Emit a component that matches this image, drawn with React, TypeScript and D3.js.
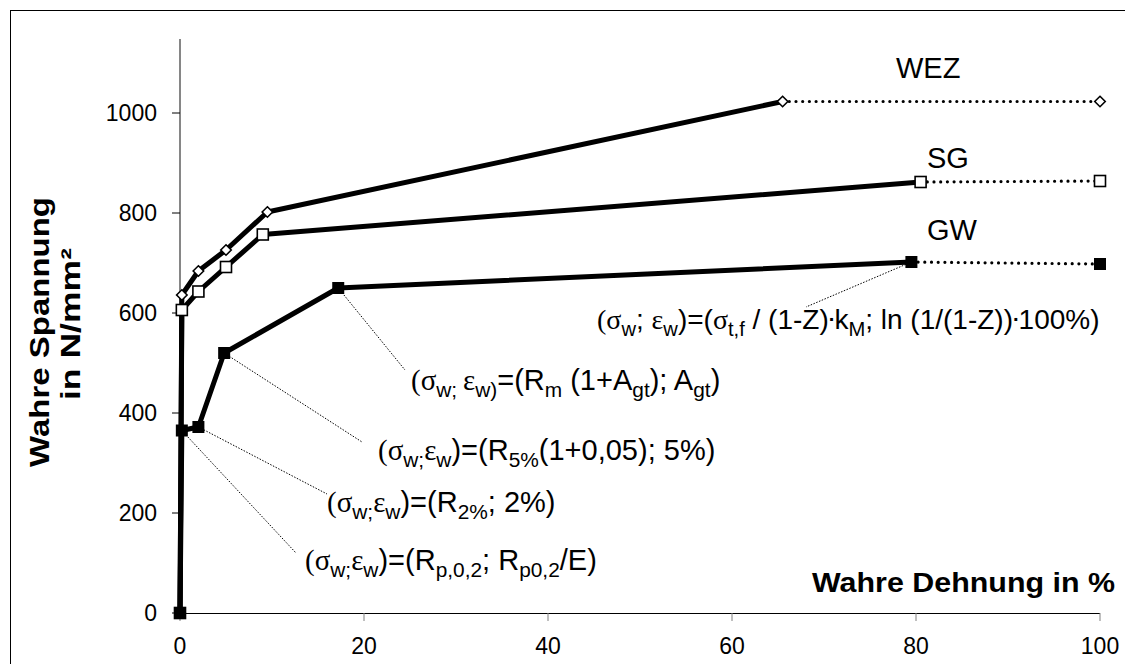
import React from 'react';
import * as d3 from 'd3';

// ---- data ----
const xTicks = [0, 20, 40, 60, 80, 100];
const yTicks = [0, 200, 400, 600, 800, 1000];

const wezStrain = [0, 0.2, 2, 5, 9.5, 65.5];
const wezStress = [0, 636, 684, 726, 802, 1023];
const wezExtStrain = [65.5, 100];
const wezExtStress = [1023, 1023];

const sgStrain = [0, 0.2, 2, 5, 9, 80.5];
const sgStress = [0, 606, 643, 692, 757, 862];
const sgExtStrain = [80.5, 100];
const sgExtStress = [862, 864];

const gwStrain = [0, 0.2, 2, 4.8, 17.2, 79.5];
const gwStress = [0, 365, 372, 520, 650, 702];
const gwExtStrain = [79.5, 100];
const gwExtStress = [702, 698];

const seriesNames = ['WEZ', 'SG', 'GW'];

type Seg = { t: string; s?: 'sub' | 'sup'; serif?: boolean };

const formulaTop: Seg[] = [
  { t: '(σ', serif: true }, { t: 'w', s: 'sub' }, { t: '; ' }, { t: 'ε', serif: true }, { t: 'w', s: 'sub' },
  { t: ')=(' }, { t: 'σ', serif: true }, { t: 't,f', s: 'sub' }, { t: ' / (1-Z)' }, { t: '.', s: 'sup' },
  { t: 'k' }, { t: 'M', s: 'sub' }, { t: '; ln (1/(1-Z))' }, { t: '.', s: 'sup' }, { t: '100%)' },
];
const formulaAgt: Seg[] = [
  { t: '(σ', serif: true }, { t: 'w; ', s: 'sub' }, { t: 'ε', serif: true }, { t: 'w)', s: 'sub' },
  { t: '=(R' }, { t: 'm', s: 'sub' }, { t: ' (1+A' }, { t: 'gt', s: 'sub' }, { t: '); A' }, { t: 'gt', s: 'sub' }, { t: ')' },
];
const formula5: Seg[] = [
  { t: '(σ', serif: true }, { t: 'w;', s: 'sub' }, { t: 'ε', serif: true }, { t: 'w', s: 'sub' },
  { t: ')=(R' }, { t: '5%', s: 'sub' }, { t: '(1+0,05); 5%)' },
];
const formula2: Seg[] = [
  { t: '(σ', serif: true }, { t: 'w;', s: 'sub' }, { t: 'ε', serif: true }, { t: 'w', s: 'sub' },
  { t: ')=(R' }, { t: '2%', s: 'sub' }, { t: '; 2%)' },
];
const formulaP: Seg[] = [
  { t: '(σ', serif: true }, { t: 'w;', s: 'sub' }, { t: 'ε', serif: true }, { t: 'w', s: 'sub' },
  { t: ')=(R' }, { t: 'p,0,2', s: 'sub' }, { t: '; R' }, { t: 'p0,2', s: 'sub' }, { t: '/E)' },
];

const SANS = "'Liberation Sans', Arial, sans-serif";
const SERIF = "'Liberation Serif', 'Times New Roman', serif";

function Rich({ x, y, segs, size }: { x: number; y: number; segs: Seg[]; size: number }) {
  let cur = 0;
  return (
    <text x={x} y={y} fontSize={size} fontFamily={SANS} fill="#000" style={{ whiteSpace: 'pre' }}>
      {segs.map((g, i) => {
        const target = g.s === 'sub' ? size * 0.24 : g.s === 'sup' ? -size * 0.3 : 0;
        const dy = target - cur;
        cur = target;
        return (
          <tspan key={i} dy={dy} fontSize={g.s ? size * 0.72 : size} fontFamily={g.serif ? SERIF : SANS}
            fontWeight={g.s === 'sup' ? 'bold' : 'normal'}>
            {g.t}
          </tspan>
        );
      })}
    </text>
  );
}

export default function App() {
  const W = 1125, H = 664;
  const x = d3.scaleLinear().domain([0, 100]).range([180, 1100]);
  const y = d3.scaleLinear().domain([0, 1000]).range([613, 113]);
  const yTop = 1148;

  const line = d3.line<[number, number]>().x(d => x(d[0])).y(d => y(d[1]));
  const zip = (a: number[], b: number[]) => a.map((v, i) => [v, b[i]] as [number, number]);

  const wez = zip(wezStrain, wezStress);
  const wezExt = zip(wezExtStrain, wezExtStress);
  const sg = zip(sgStrain, sgStress);
  const sgExt = zip(sgExtStrain, sgExtStress);
  const gw = zip(gwStrain, gwStress);
  const gwExt = zip(gwExtStrain, gwExtStress);

  const diamond = d3.symbol().type(d3.symbolDiamond2).size(70)();
  const sq = 11;

  const leaders: { from: [number, number]; to: [number, number] }[] = [
    { from: [gwStrain[5], gwStress[5]], to: [806, 307] },
    { from: [gwStrain[4], gwStress[4]], to: [405, 370] },
    { from: [gwStrain[3], gwStress[3]], to: [362, 442] },
    { from: [gwStrain[2], gwStress[2]], to: [327, 494] },
    { from: [gwStrain[1], gwStress[1]], to: [296, 553] },
  ];

  return (
    <svg width={W} height={H} style={{ position: 'absolute', left: 0, top: 0, background: '#fff' }}>
      <rect x={0} y={0} width={W} height={H} fill="#fff" />
      <rect x={10.5} y={10.5} width={W + 20} height={H + 20} fill="none" stroke="#000" strokeWidth={1} />

      {/* axes */}
      <line x1={x(0)} x2={x(0)} y1={y(yTop)} y2={y(0)} stroke="#868686" strokeWidth={2} />
      {yTicks.map(t => (
        <g key={'y' + t}>
          <line x1={x(0) - 8} x2={x(0)} y1={y(t)} y2={y(t)} stroke="#000" strokeWidth={1} />
          <text x={157} y={y(t)} dy="0.36em" textAnchor="end" fontSize={23} fontFamily={SANS}>{t}</text>
        </g>
      ))}
      <line x1={x(0)} x2={x(100)} y1={y(0) + 0.5} y2={y(0) + 0.5} stroke="#000" strokeWidth={1} />
      {xTicks.map(t => (
        <g key={'x' + t}>
          <line x1={x(t)} x2={x(t)} y1={y(0)} y2={y(0) + 8} stroke="#808080" strokeWidth={1} />
          <text x={x(t)} y={654} textAnchor="middle" fontSize={23} fontFamily={SANS}>{t}</text>
        </g>
      ))}

      {/* axis titles */}
      <text x={1115} y={592} textAnchor="end" fontSize={27} fontWeight="bold" fontFamily={SANS}
        textLength={303} lengthAdjust="spacingAndGlyphs">Wahre Dehnung in %</text>
      <text transform="translate(49,332) rotate(-90)" textAnchor="middle" fontSize={28} fontWeight="bold"
        fontFamily={SANS} textLength={270} lengthAdjust="spacingAndGlyphs">Wahre Spannung</text>
      <text transform="translate(80,324) rotate(-90)" textAnchor="middle" fontSize={27} fontWeight="bold"
        fontFamily={SANS} textLength={152} lengthAdjust="spacingAndGlyphs">in N/mm²</text>

      {/* leader lines */}
      {leaders.map((l, i) => (
        <line key={'l' + i} x1={x(l.from[0])} y1={y(l.from[1])} x2={l.to[0]} y2={l.to[1]}
          stroke="#000" strokeWidth={1} strokeDasharray="1.5 1.5" />
      ))}

      {/* dotted extensions */}
      {[wezExt, sgExt, gwExt].map((d, i) => (
        <path key={'e' + i} d={line(d) || ''} fill="none" stroke="#000" strokeWidth={3.2}
          strokeDasharray="0 6.7" strokeLinecap="round" />
      ))}

      {/* WEZ */}
      <path d={line(wez) || ''} fill="none" stroke="#000" strokeWidth={5} strokeLinejoin="round" />
      {[...wez, wezExt[1]].map((d, i) => (
        <path key={'wm' + i} d={diamond || ''} transform={`translate(${x(d[0])},${y(d[1])})`}
          fill="#fff" stroke="#000" strokeWidth={1.6} />
      ))}

      {/* SG */}
      <path d={line(sg) || ''} fill="none" stroke="#000" strokeWidth={5} strokeLinejoin="round" />
      {[...sg, sgExt[1]].map((d, i) => (
        <rect key={'sm' + i} x={x(d[0]) - sq / 2} y={y(d[1]) - sq / 2} width={sq} height={sq}
          fill="#fff" stroke="#000" strokeWidth={1.6} />
      ))}

      {/* GW */}
      <path d={line(gw) || ''} fill="none" stroke="#000" strokeWidth={5} strokeLinejoin="round" />
      {[...gw, gwExt[1]].map((d, i) => (
        <rect key={'gm' + i} x={x(d[0]) - 6} y={y(d[1]) - 6} width={12} height={12} fill="#000" />
      ))}

      {/* series labels */}
      <text x={896} y={78} fontSize={29} fontFamily={SANS}>{seriesNames[0]}</text>
      <text x={927} y={168} fontSize={29} fontFamily={SANS}>{seriesNames[1]}</text>
      <text x={927} y={240} fontSize={29} fontFamily={SANS}>{seriesNames[2]}</text>

      {/* formulas */}
      <Rich x={597} y={329} segs={formulaTop} size={28} />
      <Rich x={411} y={390} segs={formulaAgt} size={29} />
      <Rich x={378} y={460} segs={formula5} size={29} />
      <Rich x={327} y={512} segs={formula2} size={29} />
      <Rich x={305} y={570} segs={formulaP} size={29} />
    </svg>
  );
}
